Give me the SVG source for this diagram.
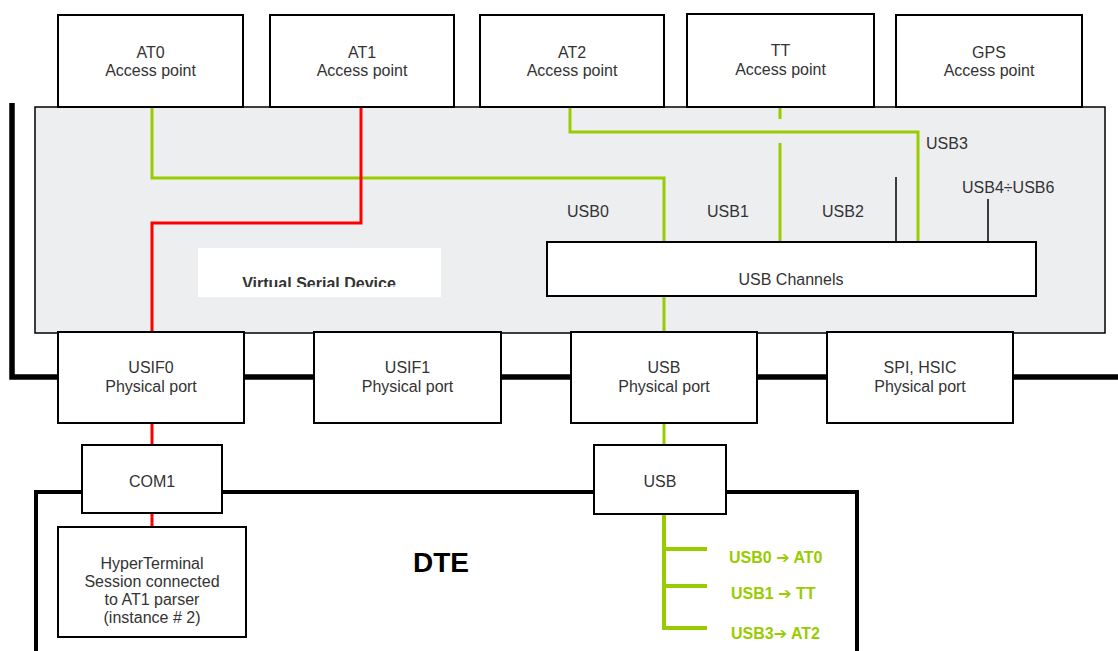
<svg xmlns="http://www.w3.org/2000/svg" width="1118" height="651" viewBox="0 0 1118 651">
<style>
text{font-family:"Liberation Sans",Arial,sans-serif;font-size:16px;fill:#333;}
.c{text-anchor:middle;}
.box{fill:#fff;stroke:#000;stroke-width:2;}
.g{fill:none;stroke:#99CC00;stroke-width:3;}
.gt{fill:none;stroke:#99CC00;stroke-width:4;}
.r{fill:none;stroke:#FF0000;stroke-width:3;}
.thin{fill:none;stroke:#000;stroke-width:1.5;}
.frame{fill:none;stroke:#000;stroke-width:5.5;}
.frame2{fill:none;stroke:#000;stroke-width:4;}
.gl{font-weight:bold;fill:#99CC00;font-size:16px;}
.ar{font-family:"DejaVu Sans",sans-serif;font-weight:bold;fill:#99CC00;font-size:16px;}
</style>
<defs>
<clipPath id="vsdclip"><rect x="198" y="248" width="243" height="39"/></clipPath>
</defs>
<rect width="1118" height="651" fill="#fff"/>
<g id="frames">
<polyline class="frame" points="12,103 12,377 1118,377"/>
<polyline class="frame2" points="36,651 36,492 857,492 857,651"/>
</g>
<g id="device">
<rect x="35" y="107" width="1070" height="226" fill="#EDEEF0" stroke="#000" stroke-width="1.5"/>
</g>
<g id="vsd">
<rect x="198" y="248" width="243" height="49" fill="#fff"/>
<text class="c" x="319" y="289" clip-path="url(#vsdclip)" style="font-weight:bold;">Virtual Serial Device</text>
</g>
<g id="connectors">
<polyline class="g" points="152,107 152,178 664,178 664,333"/>
<polyline class="g" points="570,107 570,132 918,132 918,242"/>
<line class="g" x1="780" y1="107" x2="780" y2="119"/>
<line class="g" x1="780" y1="143" x2="780" y2="242"/>
<line class="thin" x1="896" y1="177" x2="896" y2="242"/>
<line class="thin" x1="988" y1="199" x2="988" y2="242"/>
<polyline class="r" points="152,333 152,223 361,223 361,107"/>
<line class="r" x1="152" y1="423" x2="152" y2="445"/>
<line class="r" x1="152" y1="513" x2="152" y2="527"/>
<line class="g" x1="664" y1="423" x2="664" y2="445"/>
<polyline class="gt" points="664,514 664,628 707,628"/>
<line class="gt" x1="664" y1="549" x2="707" y2="549"/>
<line class="gt" x1="664" y1="586" x2="707" y2="586"/>
</g>
<g id="labels">
<text x="926" y="149">USB3</text>
<text x="962" y="193">USB4÷USB6</text>
<text x="567" y="217">USB0</text>
<text x="707" y="217">USB1</text>
<text x="822" y="217">USB2</text>
<text class="gl" x="729" y="563">USB0 <tspan class="ar">➔</tspan> AT0</text>
<text class="gl" x="731" y="599">USB1 <tspan class="ar">➔</tspan> TT</text>
<text class="gl" x="731" y="639">USB3<tspan class="ar">➔</tspan> AT2</text>
<text class="c" x="441" y="572" style="font-size:28px;font-weight:bold;fill:#000;">DTE</text>
</g>
<g id="usbch">
<rect class="box" x="547" y="242" width="489" height="54" stroke-width="1.5"/>
<text class="c" x="791" y="285">USB Channels</text>
</g>
<g id="at0"><rect class="box" x="58" y="15" width="185" height="92"/><text class="c" x="150.5" y="58">AT0</text><text class="c" x="150.5" y="76">Access point</text></g>
<g id="at1"><rect class="box" x="270" y="15" width="184" height="92"/><text class="c" x="362" y="58">AT1</text><text class="c" x="362" y="76">Access point</text></g>
<g id="at2"><rect class="box" x="480" y="15" width="184" height="92"/><text class="c" x="572" y="58">AT2</text><text class="c" x="572" y="76">Access point</text></g>
<g id="tt"><rect class="box" x="687" y="14" width="187" height="93"/><text class="c" x="780.5" y="56">TT</text><text class="c" x="780.5" y="75">Access point</text></g>
<g id="gps"><rect class="box" x="896" y="15" width="186" height="92"/><text class="c" x="989" y="58">GPS</text><text class="c" x="989" y="76">Access point</text></g>
<g id="usif0"><rect class="box" x="58" y="332" width="186" height="91"/><text class="c" x="151" y="373">USIF0</text><text class="c" x="151" y="392">Physical port</text></g>
<g id="usif1"><rect class="box" x="314" y="332" width="187" height="91"/><text class="c" x="407.5" y="373">USIF1</text><text class="c" x="407.5" y="392">Physical port</text></g>
<g id="usbphy"><rect class="box" x="571" y="332" width="186" height="91"/><text class="c" x="664" y="373">USB</text><text class="c" x="664" y="392">Physical port</text></g>
<g id="spi"><rect class="box" x="827" y="332" width="186" height="91"/><text class="c" x="920" y="373">SPI, HSIC</text><text class="c" x="920" y="392">Physical port</text></g>
<g id="com1"><rect class="box" x="82" y="445" width="140" height="68"/><text class="c" x="152" y="487">COM1</text></g>
<g id="usbdte"><rect class="box" x="594" y="445" width="132" height="69"/><text class="c" x="660" y="487">USB</text></g>
<g id="hyper"><rect class="box" x="58" y="527" width="188" height="110"/>
<text class="c" x="152" y="569">HyperTerminal</text>
<text class="c" x="152" y="587">Session connected</text>
<text class="c" x="152" y="605">to AT1 parser</text>
<text class="c" x="152" y="623">(instance # 2)</text></g>
</svg>
